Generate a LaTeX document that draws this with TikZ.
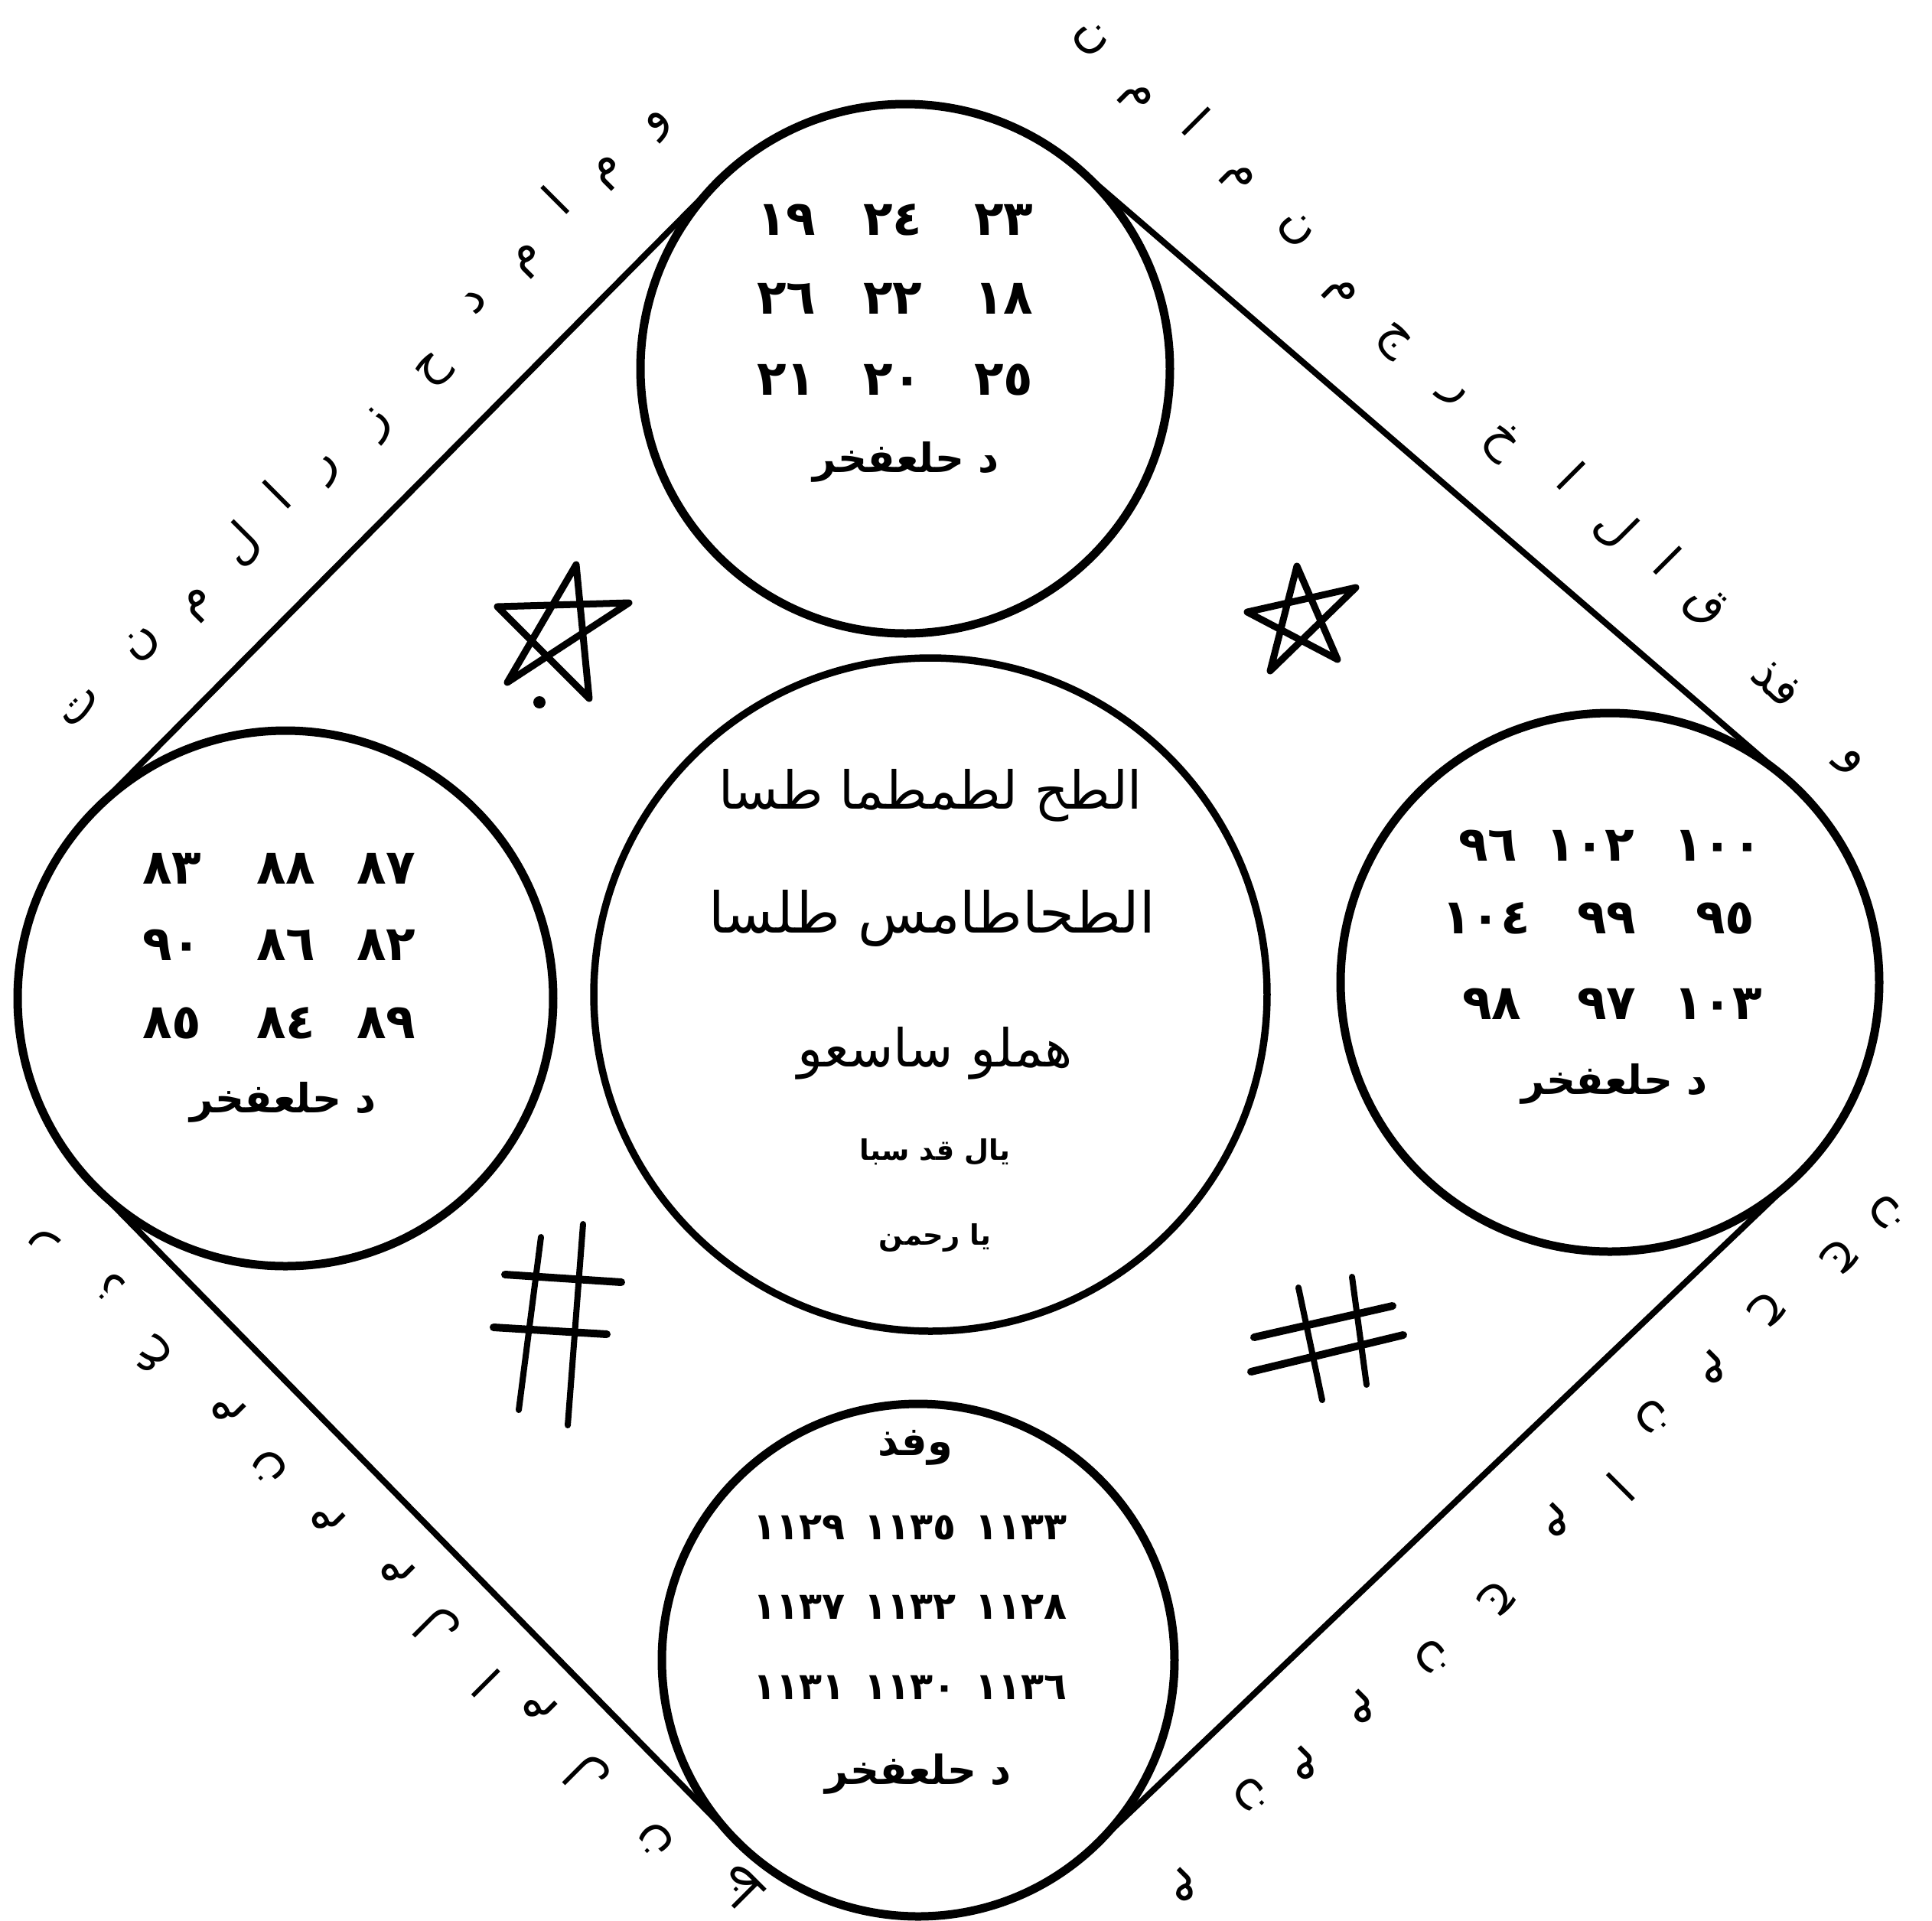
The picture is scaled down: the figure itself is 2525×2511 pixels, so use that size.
\documentclass[tikz,border=0pt]{standalone}
\usepackage{fontspec}
\newfontfamily\arabicfont[Script=Arabic]{DejaVu Sans}
\TeXXeTstate=1
\usetikzlibrary{calc}
\begin{document}
\begin{tikzpicture}[x=0.1mm,y=-0.1mm]
\tikzset{
  ring/.style={circle, draw, line width=1.1mm, inner sep=0pt},
  num/.style={font=\arabicfont\bfseries\fontsize{18}{18}\selectfont, inner sep=0pt},
  numb/.style={font=\arabicfont\bfseries\fontsize{14}{14}\selectfont, inner sep=0pt},
  lab/.style={font=\arabicfont\bfseries\fontsize{15}{15}\selectfont, inner sep=0pt},
  outl/.style={font=\arabicfont\fontsize{18}{18}\selectfont, inner sep=0pt},
  big/.style={font=\arabicfont\fontsize{19.5}{19.5}\selectfont, inner sep=0pt},
  small/.style={font=\arabicfont\bfseries\fontsize{10.5}{10.5}\selectfont, inner sep=0pt},
  edge/.style={line width=0.8mm},
  glyph/.style={line width=0.9mm, line cap=round, line join=round},
}
\fill[white] (0,0) rectangle (2525,2511);
\useasboundingbox (0,0) rectangle (2525,2511);

% circles
\node[ring, minimum size=69.2mm] (T) at (1183,482) {};
\node[ring, minimum size=70mm] (L) at (373,1305) {};
\node[ring, minimum size=70.4mm] (R) at (2104,1284) {};
\node[ring, minimum size=67mm] (B) at (1200,2170) {};
\node[ring, line width=0.95mm, minimum size=88mm] (C) at (1216,1300) {};

% tangent lines
\coordinate (tl1) at ($(T)!3.46cm!-90:(L)$);
\coordinate (tl2) at ($(L)!3.50cm!90:(T)$);
\coordinate (lb1) at ($(L)!3.50cm!-90:(B)$);
\coordinate (lb2) at ($(B)!3.35cm!90:(L)$);
\coordinate (br1) at ($(B)!3.35cm!-90:(R)$);
\coordinate (br2) at ($(R)!3.52cm!90:(B)$);
\coordinate (rt1) at ($(R)!3.52cm!-90:(T)$);
\coordinate (rt2) at ($(T)!3.46cm!90:(R)$);
\draw[edge] (tl1) -- (tl2);
\draw[edge] (lb1) -- (lb2);
\draw[edge] (br1) -- (br2);
\draw[edge] (rt1) -- (rt2);

% top circle
\node[num] (t11) at (1028,287) {١٩};
\node[num] (t12) at (1167,287) {٢٤};
\node[num] (t13) at (1312,287) {٢٣};
\node[num] (t21) at (1028,390) {٢٦};
\node[num] (t22) at (1167,390) {٢٢};
\node[num] (t23) at (1312,390) {١٨};
\node[num] (t31) at (1028,496) {٢١};
\node[num] (t32) at (1167,496) {٢٠};
\node[num] (t33) at (1312,496) {٢٥};
\node[lab] (tlab) at (1184,604) {\beginR د حلعفخر\endR};

% left circle
\node[num] (l11) at (225,1135) {٨٣};
\node[num] (l12) at (374,1135) {٨٨};
\node[num] (l13) at (505,1135) {٨٧};
\node[num] (l21) at (225,1235) {٩٠};
\node[num] (l22) at (374,1235) {٨٦};
\node[num] (l23) at (505,1235) {٨٢};
\node[num] (l31) at (225,1337) {٨٥};
\node[num] (l32) at (374,1337) {٨٤};
\node[num] (l33) at (505,1337) {٨٩};
\node[lab] (llab) at (370,1441) {\beginR د حلعفخر\endR};

% right circle
\node[num] (r11) at (1945,1105) {٩٦};
\node[num] (r12) at (2078,1105) {١٠٢};
\node[num] (r13) at (2245,1105) {١٠٠};
\node[num] (r21) at (1942,1200) {١٠٤};
\node[num] (r22) at (2100,1200) {٩٩};
\node[num] (r23) at (2255,1200) {٩٥};
\node[num] (r31) at (1950,1312) {٩٨};
\node[num] (r32) at (2100,1312) {٩٧};
\node[num] (r33) at (2245,1312) {١٠٣};
\node[lab] (rlab) at (2110,1417) {\beginR د حلعفخر\endR};

% bottom circle
\node[lab] (btop) at (1196,1892) {\beginR وفذ\endR};
\node[numb] (b11) at (1045,1997) {١١٢٩};
\node[numb] (b12) at (1190,1997) {١١٣٥};
\node[numb] (b13) at (1335,1997) {١١٣٣};
\node[numb] (b21) at (1045,2101) {١١٣٧};
\node[numb] (b22) at (1190,2101) {١١٣٢};
\node[numb] (b23) at (1335,2101) {١١٢٨};
\node[numb] (b31) at (1045,2206) {١١٣١};
\node[numb] (b32) at (1190,2206) {١١٣٠};
\node[numb] (b33) at (1335,2206) {١١٣٦};
\node[lab] (blab) at (1200,2319) {\beginR د حلعفخر\endR};

% centre circle
\node[big] (c1) at (1216,1040) {\beginR الطح لطمطما طسا\endR};
\node[big, font=\arabicfont\fontsize{21}{21}\selectfont] (c2) at (1218,1200) {\beginR الطحاطامس طلسا\endR};
\node[big] (c3) at (1222,1377) {\beginR هملو ساسعو\endR};
\node[small] (c4) at (1222,1506) {\beginR يال قد سبا\endR};
\node[small] (c5) at (1222,1618) {\beginR يا رحمن\endR};

% outer letters
\foreach \x/\y/\c [count=\i] in {863/163/و, 796/226/م, 726/261/ا, 691/341/م, 621/395/د, 568/485/ح, 495/555/ز, 431/615/ر, 362/646/ا, 314/712/ل, 260/791/م, 186/842/ن, 105/925/ت}
  \node[outl, rotate=45] (otl\i) at (\x,\y) {\beginR\c\endR};
\foreach \x/\y/\c [count=\i] in {1426/51/ن, 1484/128/م, 1564/159/ا, 1617/233/م, 1694/300/ن, 1751/383/م, 1820/446/ج, 1897/517/ر, 1962/577/خ, 2054/622/ا, 2111/689/ل, 2180/733/ا, 2228/792/ق, 2322/893/فذ, 2416/998/و}
  \node[outl, rotate=-45] (otr\i) at (\x,\y) {\beginR\c\endR};
\foreach \x/\y/\c [count=\i] in {56/1620/ر, 144/1682/ذ, 200/1771/ع, 298/1841/م, 351/1918/ن, 428/1985/م, 519/2053/م, 572/2129/ل, 635/2200/ا, 705/2230/م, 768/2322/ل, 856/2405/ن, 968/2469/ظ}
  \node[outl, rotate=135] (obl\i) at (\x,\y) {\beginR\c\endR};
\foreach \x/\y/\c [count=\i] in {2466/1586/ن, 2405/1642/ج, 2310/1711/ح, 2238/1788/م, 2160/1853/ن, 2118/1944/ا, 2033/1988/م, 1957/2089/ج, 1872/2167/ن, 1779/2232/م, 1704/2306/م, 1635/2347/ن, 1546/2465/م}
  \node[outl, rotate=-135] (obr\i) at (\x,\y) {\beginR\c\endR};

% stars
\draw[glyph] (753,738) -- (663,892) -- (822,788) -- (650,793) -- (770,913) -- cycle;
\fill (705,918) circle[radius=8];
\draw[glyph] (1695,740) -- (1660,877) -- (1772,768) -- (1630,800) -- (1748,862) -- cycle;

% hashes
\draw[glyph, line width=0.8mm] (707,1617) -- (678,1843);
\draw[glyph, line width=0.8mm] (762,1600) -- (742,1863);
\draw[glyph, line width=1mm] (660,1666) -- (812,1676);
\draw[glyph, line width=1mm] (645,1735) -- (793,1744);
\draw[glyph, line width=0.8mm] (1697,1683) -- (1728,1830);
\draw[glyph, line width=0.8mm] (1767,1669) -- (1786,1810);
\draw[glyph, line width=1mm] (1639,1748) -- (1820,1707);
\draw[glyph, line width=1mm] (1635,1793) -- (1834,1745);
\end{tikzpicture}
\end{document}
